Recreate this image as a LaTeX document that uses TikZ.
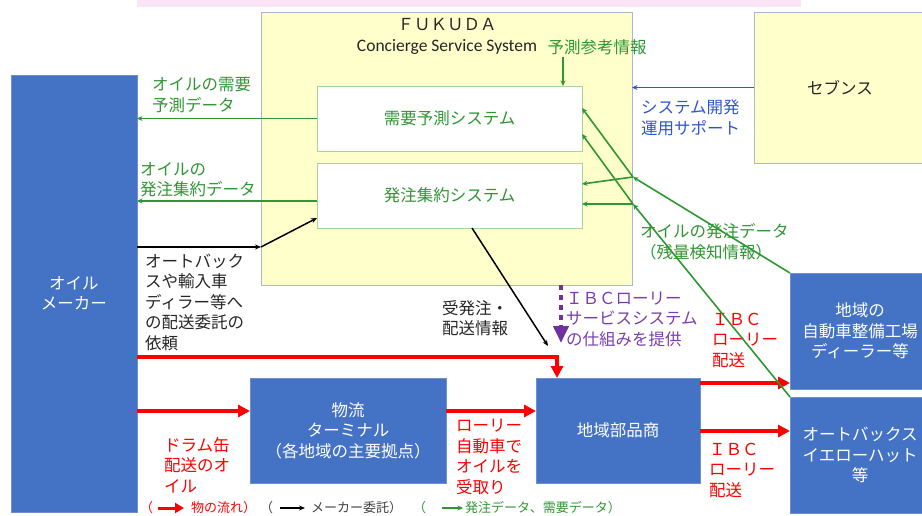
\documentclass[tikz,border=0pt]{standalone}
\usepackage{fontspec}
\setmainfont{Noto Sans CJK JP}
\newfontfamily\latinf{Carlito}
\usetikzlibrary{arrows.meta,calc}
\definecolor{boxblue}{HTML}{4472C4}
\definecolor{boxedge}{HTML}{6F8FCF}
\definecolor{yel}{HTML}{FFFFCC}
\definecolor{yeledge}{HTML}{A9B8CF}
\definecolor{sysedge}{HTML}{A6D49A}
\definecolor{gr}{HTML}{2E9632}
\definecolor{dark}{HTML}{262626}
\definecolor{purp}{HTML}{7A3DB0}
\definecolor{purpa}{HTML}{7030A0}
\definecolor{bluet}{HTML}{2F55D4}
\definecolor{pinkc}{HTML}{FCE4F7}
\definecolor{legk}{HTML}{404040}
\newcommand\myjf{\fontsize{16.5}{20.5}\selectfont}
\newcommand\mylegf{\fontsize{13}{15}\selectfont}
\begin{document}
\begin{tikzpicture}[x=1pt,y=-1pt,
  box/.style={anchor=north west, inner sep=0pt, outer sep=0pt, align=center, font=\myjf},
  bluebox/.style={box, fill=boxblue, draw=boxedge, line width=0.8pt, text=white},
  yelbox/.style={box, fill=yel, draw=yeledge, line width=0.8pt, text=dark},
  sysbox/.style={box, fill=white, draw=sysedge, line width=0.8pt, text=gr},
  lbl/.style={anchor=west, inner sep=0pt, align=left, font=\myjf},
  legt/.style={anchor=west, inner sep=0pt, font=\mylegf},
  garr/.style={draw=gr, line width=1.6pt, -{Stealth[length=5.5pt,width=5pt]}},
  karr/.style={draw=black, line width=1.5pt, -{Stealth[length=6pt,width=5pt]}},
  barr/.style={draw=bluet, line width=1.5pt, -{Stealth[length=5.5pt,width=5pt]}},
  rarr/.style={draw=red, line width=3.5pt, line join=miter, -{Triangle[length=12pt,width=12pt]}},
  parr/.style={draw=purpa, line width=4pt, dash pattern=on 5pt off 5pt, -{Triangle[length=17pt,width=15pt]}},
]
\useasboundingbox (0,0) rectangle (922,516);
\clip (0,0) rectangle (922,516);
\fill[pinkc] (137,0) rectangle (801,7);

% boxes
\node[bluebox, minimum width=126pt, minimum height=437pt] (maker) at (11,75) {オイル\\メーカー};
\node[yelbox, minimum width=371pt, minimum height=273pt] (fukuda) at (261,12) {};
\node[sysbox, minimum width=265pt, minimum height=65pt] (demand) at (317,86) {需要予測システム};
\node[sysbox, minimum width=265pt, minimum height=65pt] (order) at (317,163) {発注集約システム};
\node[yelbox, minimum width=172pt, minimum height=151pt] (sevens) at (754,12) {セブンス};
\node[bluebox, minimum width=196pt, minimum height=105pt] (terminal) at (250,378) {物流\\ターミナル\\（各地域の主要拠点）};
\node[bluebox, minimum width=164pt, minimum height=105pt] (buhin) at (536,378) {地域部品商};
\node[bluebox, minimum width=140pt, minimum height=116pt] (chiiki) at (790,273) {地域の\\自動車整備工場\\ディーラー等};
\node[bluebox, minimum width=140pt, minimum height=116pt] (auto) at (790,397) {オートバックス\\イエローハット\\等};

% fukuda titles
\node[inner sep=0pt, font=\myjf, text=dark] (fk) at (447,25) {ＦＵＫＵＤＡ};
\node[inner sep=0pt, font=\latinf\fontsize{17.5}{20}\selectfont, text=dark] (css) at (447,47) {Concierge Service System};
\node[inner sep=0pt, font=\myjf, text=gr] (yosoku) at (597,47) {予測参考情報};

% labels
\node[lbl, text=gr] (l1) at (152,95) {オイルの需要\\予測データ};
\node[lbl, text=gr] (l2) at (140,179.5) {オイルの\\発注集約データ};
\node[lbl, text=dark] (l3) at (145,302) {オートバック\\スや輸入車\\ディラー等へ\\の配送委託の\\依頼};
\node[lbl, text=red] (l4) at (164,465) {ドラム缶\\配送のオ\\イル};
\node[lbl, text=dark] (l5) at (442,318) {受発注・\\配送情報};
\node[lbl, text=purp] (l6) at (566,319) {ＩＢＣローリー\\サービスシステム\\の仕組みを提供};
\node[lbl, text=red] (l7) at (712,340) {ＩＢＣ\\ローリー\\配送};
\node[lbl, text=red] (l8) at (709,470) {ＩＢＣ\\ローリー\\配送};
\node[lbl, text=red] (l9) at (456,457) {ローリー\\自動車で\\オイルを\\受取り};
\node[lbl, text=bluet] (l10) at (641,118) {システム開発\\運用サポート};
\node[lbl, text=gr] (l11) at (640,242) {オイルの発注データ\\（残量検知情報）};

% red flows
\coordinate (r1) at ($(buhin.north west)+(21,0)$);
\draw[rarr] ($(maker.north east)+(0,282)$) -| (r1);
\coordinate (r2) at ($(terminal.north west)+(0,33)$);
\draw[rarr] (r2 -| maker.east) -- (r2);
\coordinate (r3) at ($(terminal.north east)+(0,33)$);
\draw[rarr] (r3) -- (r3 -| buhin.west);
\coordinate (r4) at ($(buhin.north east)+(0,5)$);
\draw[rarr] (r4) -- (r4 -| chiiki.west);
\coordinate (r5) at ($(buhin.north east)+(0,53)$);
\draw[rarr] (r5) -- (r5 -| auto.west);

% purple
\coordinate (ibc) at (561,343);
\draw[parr] (ibc |- fukuda.south) -- (ibc);

% black
\coordinate (bk) at (261,247);
\draw[karr] (bk -| maker.east) -- (bk);
\coordinate (bk1) at ($(order.south west)+(0,-10)$);
\draw[karr] (bk) -- (bk1);
\coordinate (ok0) at ($(order.south west)+(155,0)$);
\coordinate (ok1) at (548,346);
\draw[karr] (ok0) -- (ok1);

% green data
\draw[garr] (demand.west) -- (demand.west -| maker.east);
\coordinate (o2) at ($(order.west)+(0,5.5)$);
\draw[garr] (o2) -- (o2 -| maker.east);
\coordinate (ys) at (563,57);
\draw[garr] (ys) -- (ys |- demand.north);
\coordinate (J1) at (633,177);
\coordinate (J2) at (633,204);
\draw[garr] (chiiki.north west) -- (J1);
\draw[garr] (auto.north west) -- (J2);
\draw[garr] (J1) -- ($(demand.north east)+(0,22)$);
\draw[garr] (J1) -- ($(order.north east)+(0,21)$);
\draw[garr] (J2) -- ($(demand.north east)+(0,48)$);
\draw[garr] (J2) -- (J2 -| order.east);

% blue
\draw[barr] (sevens.west) -- (sevens.west -| fukuda.east);

% legend
\node[legt, text=red] (lg1) at (140,508) {（};
\coordinate (la1) at (158,508); \coordinate (la2) at (184,508);
\draw[red, line width=3pt, -{Triangle[length=9pt,width=10pt]}] (la1) -- (la2);
\node[legt, text=red] (lg2) at (191,508) {物の流れ）};
\node[legt, text=legk] (lg3) at (260,508) {（};
\coordinate (lb1) at (280,508); \coordinate (lb2) at (305,508);
\draw[karr] (lb1) -- (lb2);
\node[legt, text=legk] (lg4) at (311,508) {メーカー委託）};
\node[legt, text=gr] (lg5) at (413,508) {（};
\coordinate (lc1) at (442,508); \coordinate (lc2) at (463,508);
\draw[garr] (lc1) -- (lc2);
\node[legt, text=gr] (lg6) at (465,508) {発注データ、需要データ）};
\end{tikzpicture}
\end{document}
